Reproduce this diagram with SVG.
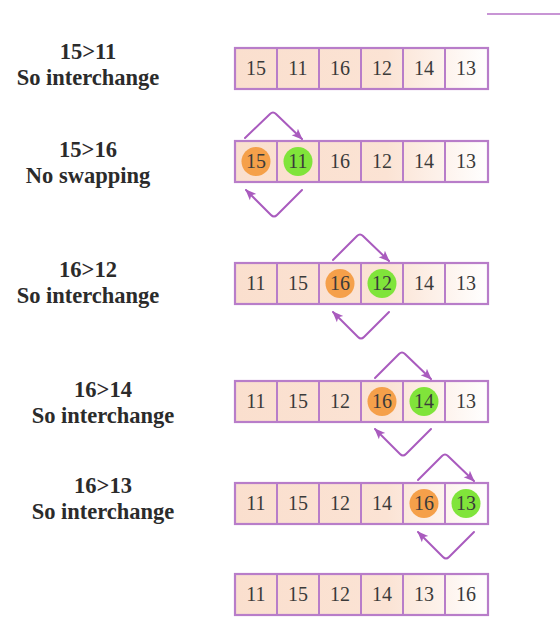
<svg xmlns="http://www.w3.org/2000/svg" width="560" height="641" viewBox="0 0 560 641">
<defs>
<linearGradient id="rowfill" x1="0" y1="0" x2="1" y2="0">
<stop offset="0" stop-color="#FADFCE"/>
<stop offset="0.6" stop-color="#FBE3D4"/>
<stop offset="1" stop-color="#FFFFFF"/>
</linearGradient>
<marker id="ah" markerUnits="userSpaceOnUse" markerWidth="12" markerHeight="12" viewBox="0 0 12 12" refX="10" refY="6" orient="auto">
<path d="M0,1.5 L11,6 L0,10.5 L2.5,6 z" fill="#A95BBE"/>
</marker>
<g id="cells">
<rect x="0" y="0" width="253" height="41" fill="url(#rowfill)"/>
<rect x="0" y="0" width="253" height="41" fill="none" stroke="#B87DC9" stroke-width="2.2"/>
<path d="M42,0V41M84,0V41M126,0V41M168,0V41M210,0V41" stroke="#B87DC9" stroke-width="2"/>
</g>
</defs>
<style>
.lbl{font-family:'Liberation Serif','DejaVu Serif','Times New Roman',serif;font-weight:bold;font-size:22.5px;fill:#2b2b2b;text-anchor:middle}
.num{font-family:'Liberation Serif','DejaVu Serif','Times New Roman',serif;font-size:20px;fill:#3a3a3a;text-anchor:middle}
.arr{fill:none;stroke:#A95BBE;stroke-width:2;stroke-linejoin:round;stroke-linecap:round}
.or{fill:#F5A04A}
.gr{fill:#80E43A}
</style>

<line x1="487" y1="14" x2="560" y2="14" stroke="#C895D5" stroke-width="2.2"/>

<g id="label1"><text class="lbl" x="88" y="59">15&gt;11</text><text class="lbl" x="88" y="85">So interchange</text></g>
<g id="label2"><text class="lbl" x="88" y="157">15&gt;16</text><text class="lbl" x="88" y="183">No swapping</text></g>
<g id="label3"><text class="lbl" x="88" y="277">16&gt;12</text><text class="lbl" x="88" y="303">So interchange</text></g>
<g id="label4"><text class="lbl" x="103" y="397">16&gt;14</text><text class="lbl" x="103" y="423">So interchange</text></g>
<g id="label5"><text class="lbl" x="103" y="493">16&gt;13</text><text class="lbl" x="103" y="519">So interchange</text></g>

<g id="row1" transform="translate(235,48)">
<use href="#cells"/>
<text class="num" x="21" y="27">15</text><text class="num" x="63" y="27">11</text><text class="num" x="105" y="27">16</text><text class="num" x="147" y="27">12</text><text class="num" x="189" y="27">14</text><text class="num" x="231" y="27">13</text>
</g>

<g id="row2" transform="translate(235,141)">
<use href="#cells"/>
<circle class="or" cx="21" cy="20.5" r="14.5"/><circle class="gr" cx="63" cy="20.5" r="14.5"/>
<text class="num" x="21" y="27">15</text><text class="num" x="63" y="27">11</text><text class="num" x="105" y="27">16</text><text class="num" x="147" y="27">12</text><text class="num" x="189" y="27">14</text><text class="num" x="231" y="27">13</text>
</g>

<g id="row3" transform="translate(235,263)">
<use href="#cells"/>
<circle class="or" cx="105" cy="20.5" r="14.5"/><circle class="gr" cx="147" cy="20.5" r="14.5"/>
<text class="num" x="21" y="27">11</text><text class="num" x="63" y="27">15</text><text class="num" x="105" y="27">16</text><text class="num" x="147" y="27">12</text><text class="num" x="189" y="27">14</text><text class="num" x="231" y="27">13</text>
</g>

<g id="row4" transform="translate(235,381)">
<use href="#cells"/>
<circle class="or" cx="147" cy="20.5" r="14.5"/><circle class="gr" cx="189" cy="20.5" r="14.5"/>
<text class="num" x="21" y="27">11</text><text class="num" x="63" y="27">15</text><text class="num" x="105" y="27">12</text><text class="num" x="147" y="27">16</text><text class="num" x="189" y="27">14</text><text class="num" x="231" y="27">13</text>
</g>

<g id="row5" transform="translate(235,483)">
<use href="#cells"/>
<circle class="or" cx="189" cy="20.5" r="14.5"/><circle class="gr" cx="231" cy="20.5" r="14.5"/>
<text class="num" x="21" y="27">11</text><text class="num" x="63" y="27">15</text><text class="num" x="105" y="27">12</text><text class="num" x="147" y="27">14</text><text class="num" x="189" y="27">16</text><text class="num" x="231" y="27">13</text>
</g>

<g id="row6" transform="translate(235,574)">
<use href="#cells"/>
<text class="num" x="21" y="27">11</text><text class="num" x="63" y="27">15</text><text class="num" x="105" y="27">12</text><text class="num" x="147" y="27">14</text><text class="num" x="189" y="27">13</text><text class="num" x="231" y="27">16</text>
</g>

<g id="connectors">
<path class="arr" marker-end="url(#ah)" d="M245,138 L270,114 Q273,111 276,114 L302,139"/>
<path class="arr" marker-end="url(#ah)" d="M302,190 L277,215 Q274,218 271,215 L246,190"/>
<path class="arr" marker-end="url(#ah)" d="M333,260 L357,236 Q360,233 363,236 L389,261"/>
<path class="arr" marker-end="url(#ah)" d="M389,312 L364,337 Q361,340 358,337 L333,312"/>
<path class="arr" marker-end="url(#ah)" d="M375,378 L399,354 Q402,351 405,354 L431,379"/>
<path class="arr" marker-end="url(#ah)" d="M431,429 L406,454 Q403,457 400,454 L375,429"/>
<path class="arr" marker-end="url(#ah)" d="M418,480 L442,456 Q445,453 448,456 L474,481"/>
<path class="arr" marker-end="url(#ah)" d="M474,532 L449,557 Q446,560 443,557 L418,532"/>
</g>
</svg>
